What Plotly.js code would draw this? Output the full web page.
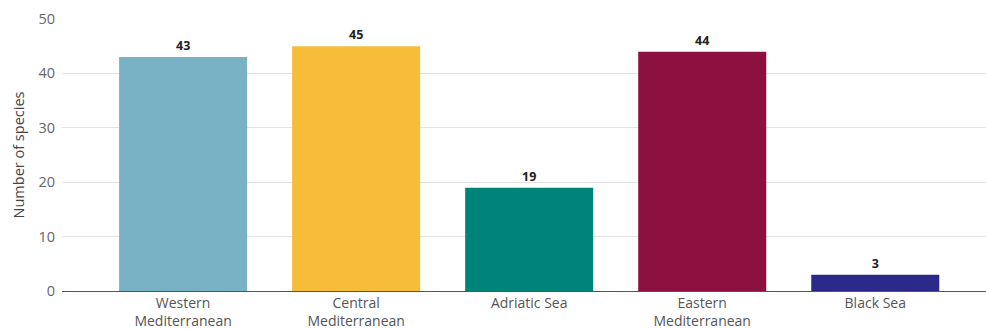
<!DOCTYPE html>
<html>
<head>
<meta charset="utf-8">
<script src="https://cdn.plot.ly/plotly-3.0.1.min.js"></script>
<style>html,body{margin:0;padding:0;background:#fff;}#chart{width:986px;height:329px;}</style>
</head>
<body>
<div id="chart"></div>
<script>
const categories = ["Western<br>Mediterranean", "Central<br>Mediterranean", "Adriatic Sea", "Eastern<br>Mediterranean", "Black Sea"];
const species = [43, 45, 19, 44, 3];
const barColors = ["#79B1C5", "#F6BC3A", "#00847A", "#8C1140", "#2B2A8B"];
const yTicks = [0, 10, 20, 30, 40, 50];

const trace = {
  type: "bar",
  x: categories,
  y: species,
  marker: {color: barColors},
  text: species.map(String),
  textposition: "outside",
  cliponaxis: false,
  textfont: {family: "Open Sans, sans-serif", size: 12.5, color: "#222", weight: "bold"},
  hoverinfo: "none"
};

const layout = {
  width: 986, height: 329,
  margin: {l: 62, r: 0, t: 19, b: 38},
  paper_bgcolor: "#fff", plot_bgcolor: "#fff",
  bargap: 0.26,
  showlegend: false,
  font: {family: "Open Sans, sans-serif", color: "#555"},
  xaxis: {
    range: [-0.70, 4.64],
    showgrid: false,
    showline: false,
    ticks: "",
    ticklabelstandoff: 2,
    tickfont: {size: 14, color: "#555"},
    fixedrange: true
  },
  yaxis: {
    range: [0, 50],
    tickvals: yTicks,
    showgrid: true,
    gridcolor: "#e3e3e3",
    gridwidth: 1,
    zeroline: true,
    zerolinecolor: "#555",
    zerolinewidth: 1,
    ticks: "",
    ticklabelstandoff: 6,
    tickfont: {size: 14.5, color: "#666"},
    title: {text: "Number of species", font: {size: 14.5, color: "#444"}, standoff: 10},
    fixedrange: true
  }
};

Plotly.newPlot("chart", [trace], layout, {displayModeBar: false, staticPlot: true});
</script>
</body>
</html>
